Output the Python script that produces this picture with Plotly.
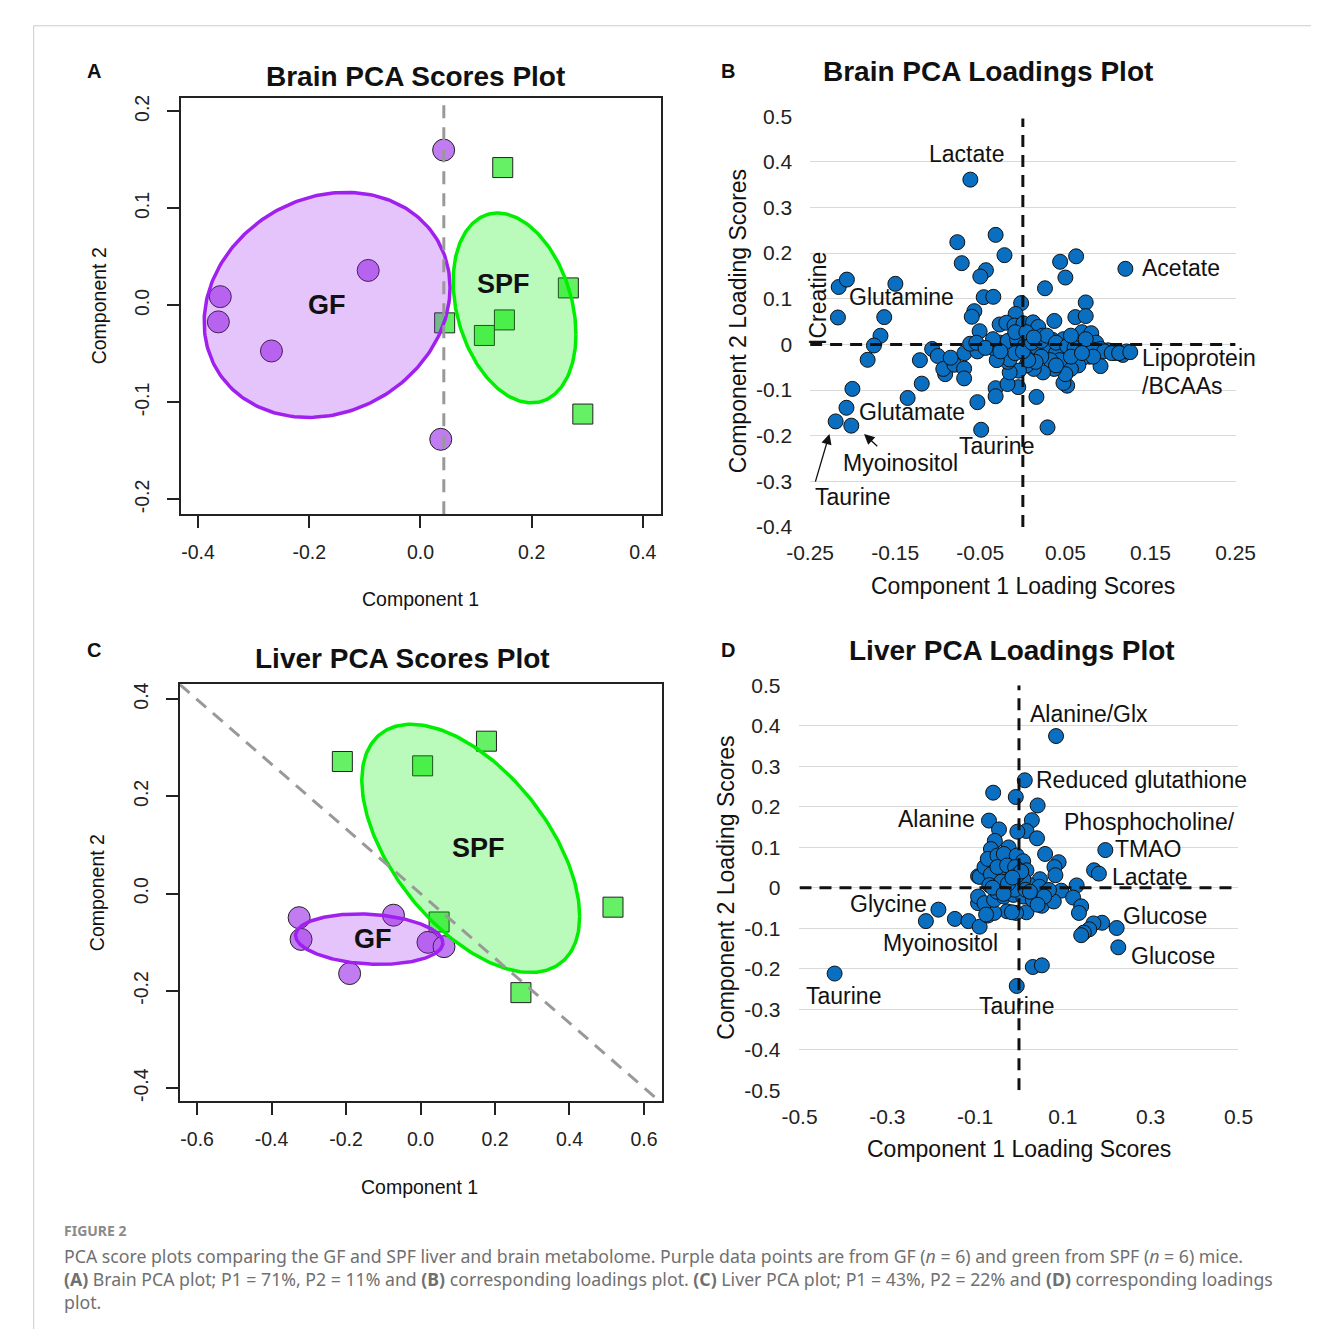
import numpy as np
import plotly.graph_objects as go

W, H = 1331, 1340

# ---------------- Panel A: brain PCA scores ----------------
brain_gf_pc1 = [-0.360, -0.3635, -0.268, -0.094, 0.0417, 0.0365]
brain_gf_pc2 = [0.009, -0.017, -0.047, 0.036, 0.160, -0.138]
brain_spf_pc1 = [0.148, 0.266, 0.0435, 0.151, 0.115, 0.292]
brain_spf_pc2 = [0.142, 0.018, -0.018, -0.015, -0.031, -0.112]
brain_split_pc1 = 0.042  # vertical separating line

# ---------------- Panel C: liver PCA scores ----------------
liver_gf_pc1 = [-0.326, -0.3208, -0.1904, -0.0727, 0.020, 0.0631]
liver_gf_pc2 = [-0.0495, -0.0941, -0.1644, -0.0444, -0.1002, -0.1091]
liver_spf_pc1 = [-0.2099, 0.0057, 0.1771, 0.0499, 0.5169, 0.2696]
liver_spf_pc2 = [0.2715, 0.2626, 0.3133, -0.0584, -0.0279, -0.2036]
liver_split_slope = -0.665  # diagonal separating line through the origin

# ---------------- Panel B: brain loadings ----------------
brain_load_pc1 = [
    -0.0617, 0.1205, -0.032, -0.077, -0.0216, -0.0718, 0.0626, 0.0438, 0.050, 0.026,
    -0.0434, -0.050, -0.046, -0.0347, -0.057, -0.060, -0.002, 0.0739, 0.0617, 0.0739,
    0.037, -0.0085, -0.0508, -0.2164, -0.2068, -0.2173, -0.1498, -0.1629, -0.1673, -0.175,
    -0.1824, -0.2003, -0.2073, -0.220, -0.2016, -0.1354, -0.1188, -0.1210, -0.0534, -0.049,
    0.029, 0.016, -0.0054, -0.032, -0.032, -0.018, -0.1066, -0.100, -0.0913, -0.0935,
    -0.0804, -0.0848, -0.069, -0.069, -0.0687, -0.0534, -0.062, -0.0547,
    -0.0273, -0.0194, -0.0098, 0.0007, 0.012, 0.0181, 0.0233, 0.0347, 0.0477, 0.0565,
    0.0695, 0.0804, 0.0861, 0.0913, 0.100, 0.1088, 0.1175, 0.1219, 0.0913, 0.0783,
    0.0695, 0.0652, 0.0565, 0.0521, 0.0477, 0.050, 0.0368, 0.0237, 0.0128, 0.0041,
    -0.0046, -0.0155, -0.0176, -0.0155, -0.0307, -0.0351, -0.0264, -0.0176, -0.0068, 0.002,
    0.0085, 0.0172, 0.0303, 0.039, 0.0434, 0.0325, 0.0216, 0.015, 0.0063, -0.009,
    0.000, 0.0107, 0.0216, 0.028, 0.039, 0.0521, 0.0608, 0.0739, 0.0826, 0.0565,
    0.039, -0.0351, -0.0439, -0.0264, -0.009, 0.0041, 0.0128, 0.0565, 0.0739, 0.0956,
    0.1044, 0.1131, 0.0826, 0.0695, 0.1262,
]
brain_load_pc2 = [
    0.361, 0.1656, 0.240, 0.224, 0.1955, 0.178, 0.193, 0.181, 0.1465, 0.123,
    0.1626, 0.1488, 0.1035, 0.1043, 0.0729, 0.0606, 0.0905, 0.092, 0.0598, 0.0621,
    0.0514, 0.0667, 0.029, 0.1258, 0.142, 0.059, 0.1327, 0.0598, 0.019, -0.0023,
    -0.0337, -0.0974, -0.1388, -0.1687, -0.178, -0.1173, -0.0859, -0.0345, -0.1265, -0.187,
    -0.1817, -0.115, -0.0936, -0.0959, -0.1135, -0.0867, -0.010, -0.0253, -0.0652, -0.0537,
    -0.0445, -0.0291, -0.0529, -0.0744, -0.0192, -0.0153, 0.0015, 0.0038,
    0.0437, 0.0475, 0.0414, 0.046, 0.0483, 0.0383, 0.0192, 0.010, 0.0115, 0.000,
    0.0268, 0.0245, 0.0038, -0.010, -0.013, -0.019, -0.023, -0.0153, -0.0475, -0.0268,
    -0.0307, -0.046, -0.0537, -0.0905, -0.0844, -0.0652, -0.0537, -0.0613, -0.0537, -0.046,
    -0.0575, -0.0613, -0.0383, -0.033, -0.0345, -0.0077, 0.0038, 0.0077, 0.0115, -0.0038,
    -0.0192, -0.0077, -0.0038, -0.0192, -0.0345, -0.0345, -0.0268, -0.0383, -0.0345, -0.0192,
    -0.0153, 0.0038, 0.0077, 0.0192, 0.0038, -0.0038, -0.0077, -0.0038, -0.0115, -0.0268,
    -0.046, 0.0115, -0.0077, -0.0153, 0.0268, 0.0268, 0.0153, 0.0192, 0.0115, -0.0153,
    -0.019, -0.019, -0.0268, -0.019, -0.0169,
]

# ---------------- Panel D: liver loadings ----------------
liver_load_pc1 = [
    0.0844, 0.0132, -0.0588, -0.0073, 0.0425, 0.0293, 0.017, -0.0037, 0.0411, -0.0683,
    -0.0455, -0.055, 0.0595, 0.0903, 0.0808, 0.083, 0.0477, 0.1967, 0.171, 0.182,
    0.1314, 0.0962, 0.1233, 0.1417, 0.1366, 0.1894, 0.1696, 0.1601, 0.1476, 0.1417,
    0.2225, 0.2262, -0.1835, -0.2121, -0.146, -0.1152, -0.0896, -0.0711, -0.420, -0.0051,
    0.0315, 0.0521, 0.0521, 0.0793, 0.017, -0.0066, -0.0271, -0.0566, -0.0932, -0.0932,
    -0.0639, -0.0236, -0.0896, -0.0786, -0.0711, -0.0491, -0.0345, -0.0051, 0.0095, 0.017,
    0.0022, -0.0198, -0.0418, -0.0639, -0.0491, -0.0271, -0.0088, -0.0676, -0.0418, -0.0161,
    0.0022, 0.0242, 0.0463, 0.0683, -0.0932, -0.0786, -0.0566, -0.0345, -0.0125, 0.0095,
    0.0315, 0.0573, -0.0161, 0.0425, -0.0749, -0.020, -0.030, 0.000, -0.010, 0.010,
    -0.040, 0.015, -0.050, -0.060, -0.025, -0.005, -0.035, 0.005, -0.015, 0.025,
]
liver_load_pc2 = [
    0.3745, 0.2653, 0.2347, 0.224, 0.2031, 0.1667, 0.140, 0.1383, 0.122, 0.1658,
    0.144, 0.1157, 0.0833, 0.063, 0.051, 0.0308, 0.021, 0.093, 0.043, 0.0348,
    0.0057, -0.0073, -0.0243, -0.0461, -0.0623, -0.0866, -0.0882, -0.1027, -0.1108, -0.1173,
    -0.0995, -0.1472, -0.0542, -0.0825, -0.077, -0.0825, -0.0963, -0.0688, -0.212, -0.2427,
    -0.1958, -0.1917, -0.0445, -0.034, -0.0607, -0.0623, -0.0583, -0.0623, -0.0381, 0.0283,
    0.0954, 0.0995, 0.0267, 0.051, 0.0711, 0.0794, 0.0833, 0.0794, 0.0655, 0.043,
    0.0348, 0.0308, 0.0348, 0.0332, 0.051, 0.055, 0.051, 0.0065, 0.0105, 0.0105,
    0.0024, 0.0065, 0.0024, -0.0056, -0.0218, -0.0381, -0.0299, -0.0218, -0.0178, -0.0218,
    -0.0299, -0.0218, -0.0607, -0.042, -0.0663, 0.020, 0.005, 0.015, -0.005, 0.020,
    0.015, -0.005, -0.010, 0.000, 0.010, 0.030, -0.015, 0.040, 0.025, -0.010,
]

# colours
GF_PT, GF_LINE, GF_FILL = "#c07cf0", "#a020f0", "rgba(160,32,240,0.27)"
SPF_PT, SPF_LINE, SPF_FILL = "#66f066", "#00ee00", "rgba(0,238,0,0.27)"
LOAD_BLUE = "#0a6fc0"
R_FONT = "Liberation Sans"


def data_ellipse(x, y, level=0.5, n=240):
    """Normal-theory data ellipse from the sample mean and covariance."""
    x, y = np.asarray(x), np.asarray(y)
    centre = np.array([x.mean(), y.mean()])
    chol = np.linalg.cholesky(np.cov(x, y))
    radius = np.sqrt(-2.0 * np.log(1.0 - level))
    t = np.linspace(0, 2 * np.pi, n)
    pts = centre[:, None] + radius * chol @ np.vstack([np.cos(t), np.sin(t)])
    return pts[0], pts[1], centre


def px(xp):
    return xp / W


def py(yp):
    return 1 - yp / H


fig = go.Figure()


def score_panel(xa, ya, gf_x, gf_y, spf_x, spf_y):
    fig.add_trace(go.Scatter(x=gf_x, y=gf_y, mode="markers", xaxis=xa, yaxis=ya,
                             marker=dict(symbol="circle", size=22, color=GF_PT,
                                         line=dict(color="#222", width=1))))
    fig.add_trace(go.Scatter(x=spf_x, y=spf_y, mode="markers", xaxis=xa, yaxis=ya,
                             marker=dict(symbol="square", size=20, color=SPF_PT,
                                         line=dict(color="#222", width=1))))
    gx, gy, gc = data_ellipse(gf_x, gf_y)
    sx, sy, sc = data_ellipse(spf_x, spf_y)
    fig.add_trace(go.Scatter(x=gx, y=gy, mode="lines", fill="toself", fillcolor=GF_FILL,
                             line=dict(color=GF_LINE, width=3.5), xaxis=xa, yaxis=ya))
    fig.add_trace(go.Scatter(x=sx, y=sy, mode="lines", fill="toself", fillcolor=SPF_FILL,
                             line=dict(color=SPF_LINE, width=3.5), xaxis=xa, yaxis=ya))
    return gc, sc


# Panel A
gcA, scA = score_panel("x", "y", brain_gf_pc1, brain_gf_pc2, brain_spf_pc1, brain_spf_pc2)
fig.add_trace(go.Scatter(x=[brain_split_pc1, brain_split_pc1], y=[-0.2152, 0.2142], mode="lines",
                         line=dict(color="#999999", width=3, dash="13px,9px"),
                         xaxis="x", yaxis="y"))
# Panel C
gcC, scC = score_panel("x3", "y3", liver_gf_pc1, liver_gf_pc2, liver_spf_pc1, liver_spf_pc2)
c_x = np.array([-0.6468, 0.4263 / -liver_split_slope])
fig.add_trace(go.Scatter(x=c_x, y=liver_split_slope * c_x, mode="lines",
                         line=dict(color="#999999", width=3, dash="13px,9px"),
                         xaxis="x3", yaxis="y3"))

# Loadings panels
fig.add_trace(go.Scatter(x=brain_load_pc1, y=brain_load_pc2, mode="markers", xaxis="x2", yaxis="y2",
                         marker=dict(size=15, color=LOAD_BLUE, line=dict(color="#111", width=1))))
fig.add_trace(go.Scatter(x=liver_load_pc1, y=liver_load_pc2, mode="markers", xaxis="x4", yaxis="y4",
                         marker=dict(size=15, color=LOAD_BLUE, line=dict(color="#111", width=1))))

# ---------- axes ----------
r_axis = dict(showline=True, mirror=True, linecolor="#222", linewidth=1.5, ticks="outside",
              ticklen=12, tickwidth=1.5, tickcolor="#222", showgrid=False, zeroline=False,
              tickfont=dict(family=R_FONT, size=19.5, color="#222"), fixedrange=True)
fig.update_layout(
    xaxis=dict(r_axis, domain=[px(162), px(659)], range=[-0.4313, 0.433], anchor="y",
               tickvals=[-0.4, -0.2, 0, 0.2, 0.4], ticktext=["-0.4", "-0.2", "0.0", "0.2", "0.4"],
               ticklabelstandoff=8),
    yaxis=dict(r_axis, domain=[py(511), py(87)], range=[-0.2152, 0.2142], anchor="x",
               tickvals=[-0.2, -0.1, 0, 0.1, 0.2], ticktext=["-0.2", "-0.1", "0.0", "0.1", "0.2"],
               tickangle=-90, ticklabelstandoff=10),
    xaxis3=dict(r_axis, domain=[px(161), px(660)], range=[-0.6468, 0.649], anchor="y3",
                tickvals=[-0.6, -0.4, -0.2, 0, 0.2, 0.4, 0.6],
                ticktext=["-0.6", "-0.4", "-0.2", "0.0", "0.2", "0.4", "0.6"], ticklabelstandoff=8),
    yaxis3=dict(r_axis, domain=[py(1108), py(684)], range=[-0.4263, 0.4303], anchor="x3",
                tickvals=[-0.4, -0.2, 0, 0.2, 0.4], ticktext=["-0.4", "-0.2", "0.0", "0.2", "0.4"],
                tickangle=-90, ticklabelstandoff=10),
)

xl_font = dict(family=R_FONT, size=21, color="#222")
b_y = [-0.4, -0.3, -0.2, -0.1, 0, 0.1, 0.2, 0.3, 0.4, 0.5]
d_y = [-0.5, -0.4, -0.3, -0.2, -0.1, 0, 0.1, 0.2, 0.3, 0.4, 0.5]


def lbl(v):
    return "0" if v == 0 else f"{v:g}"


fig.update_layout(
    xaxis2=dict(domain=[px(813), px(1253)], range=[-0.25, 0.25], anchor="y2", showline=False,
                showgrid=False, zeroline=False, tickvals=[-0.25, -0.15, -0.05, 0.05, 0.15, 0.25],
                ticktext=["-0.25", "-0.15", "-0.05", "0.05", "0.15", "0.25"], tickfont=xl_font,
                ticklabelstandoff=11),
    yaxis2=dict(domain=[py(524), py(106)], range=[-0.4, 0.5], anchor="x2", showline=False,
                showgrid=True, gridcolor="#d9d9d9", gridwidth=1.2, zeroline=False,
                tickvals=b_y, ticktext=[lbl(v) for v in b_y], tickfont=xl_font, ticklabelstandoff=17),
    xaxis4=dict(domain=[px(802), px(1256)], range=[-0.5, 0.5], anchor="y4", showline=False,
                showgrid=False, zeroline=False, tickvals=[-0.5, -0.3, -0.1, 0.1, 0.3, 0.5],
                ticktext=["-0.5", "-0.3", "-0.1", "0.1", "0.3", "0.5"], tickfont=xl_font,
                ticklabelstandoff=12),
    yaxis4=dict(domain=[py(1097), py(685)], range=[-0.5, 0.5], anchor="x4", showline=False,
                showgrid=True, gridcolor="#d9d9d9", gridwidth=1.2, zeroline=False,
                tickvals=d_y, ticktext=[lbl(v) for v in d_y], tickfont=xl_font, ticklabelstandoff=18),
)

shapes = []
dash_k = dict(color="#111", width=3, dash="12px,8px")
shapes.append(dict(type="line", xref="x2", yref="y2", x0=0, x1=0, y0=-0.4, y1=0.495, line=dash_k))
shapes.append(dict(type="line", xref="x2", yref="y2", x0=-0.25, x1=0.25, y0=0, y1=0, line=dash_k))
shapes.append(dict(type="line", xref="x4", yref="y4", x0=0, x1=0, y0=-0.5, y1=0.5, line=dash_k))
shapes.append(dict(type="line", xref="x4", yref="y4", x0=-0.5, x1=0.5, y0=0, y1=0, line=dash_k))
# page frame
shapes.append(dict(type="line", xref="paper", yref="paper", x0=px(10), x1=1, y0=py(14), y1=py(14),
                   line=dict(color="#cccccc", width=1)))
shapes.append(dict(type="line", xref="paper", yref="paper", x0=px(10), x1=px(10), y0=py(14), y1=0,
                   line=dict(color="#cccccc", width=1)))

ann = []


def text(x, y, s, size, xref="paper", yref="paper", xanchor="center", yanchor="middle",
         bold=False, angle=0, color="#111", family=R_FONT):
    ann.append(dict(x=x, y=y, xref=xref, yref=yref, text=f"<b>{s}</b>" if bold else s,
                    showarrow=False, xanchor=xanchor, yanchor=yanchor, textangle=angle,
                    font=dict(family=family, size=size, color=color)))


# titles and panel letters
text(px(405), py(66), "Brain PCA Scores Plot", 28, bold=True)
text(px(997), py(61), "Brain PCA Loadings Plot", 28, bold=True)
text(px(391), py(658), "Liver PCA Scores Plot", 28, bold=True)
text(px(1022), py(650), "Liver PCA Loadings Plot", 28, bold=True)
for letter, lx, ly in [("A", 72, 60), ("B", 728, 60), ("C", 72, 649), ("D", 728, 649)]:
    text(px(lx), py(ly), letter, 20, bold=True)

# axis titles
text(px(410), py(597), "Component 1", 19.5)
text(px(77), py(299), "Component 2", 19.5, angle=-90)
text(px(409), py(1196), "Component 1", 19.5)
text(px(75), py(896), "Component 2", 19.5, angle=-90)
text(px(1033), py(584), "Component 1 Loading Scores", 23)
text(px(738), py(315), "Component 2 Loading Scores", 23, angle=-90)
text(px(1029), py(1157), "Component 1 Loading Scores", 23)
text(px(726), py(891), "Component 2 Loading Scores", 23, angle=-90)

# group labels at ellipse centres
text(gcA[0], gcA[1], "GF", 27, "x", "y", bold=True)
text(scA[0] - 0.02, scA[1] + 0.025, "SPF", 27, "x", "y", bold=True)
text(gcC[0] + 0.01, gcC[1], "GF", 27, "x3", "y3", bold=True)
text(scC[0] + 0.02, scC[1] + 0.0, "SPF", 27, "x3", "y3", bold=True)

# metabolite labels, brain loadings
FS = 23
text(-0.066, 0.417, "Lactate", FS, "x2", "y2")
text(0.1375, 0.168, "Acetate", FS, "x2", "y2", xanchor="left")
text(-0.207, 0.103, "Glutamine", FS, "x2", "y2", xanchor="left")
text(-0.240, 0.101, "ICreatine", FS, "x2", "y2", angle=-90)
text(0.1375, -0.030, "Lipoprotein", FS, "x2", "y2", xanchor="left")
text(0.1375, -0.090, "/BCAAs", FS, "x2", "y2", xanchor="left")
text(-0.195, -0.148, "Glutamate", FS, "x2", "y2", xanchor="left")
text(-0.031, -0.2215, "Taurine", FS, "x2", "y2")
text(-0.144, -0.260, "Myoinositol", FS, "x2", "y2")
text(-0.2466, -0.335, "Taurine", FS, "x2", "y2", xanchor="left")
for (hx, hy, tx, ty) in [(-0.2273, -0.196, -0.2443, -0.304), (-0.1866, -0.196, -0.1693, -0.226)]:
    ann.append(dict(x=hx, y=hy, ax=tx, ay=ty, xref="x2", yref="y2", axref="x2", ayref="y2",
                    showarrow=True, arrowhead=2, arrowsize=1.6, arrowwidth=1.3, arrowcolor="#111",
                    text=""))

# metabolite labels, liver loadings
text(0.0198, 0.4296, "Alanine/Glx", FS, "x4", "y4", xanchor="left")
text(0.0352, 0.267, "Reduced glutathione", FS, "x4", "y4", xanchor="left")
text(-0.0947, 0.170, "Alanine", FS, "x4", "y4", xanchor="right")
text(0.097, 0.1626, "Phosphocholine/", FS, "x4", "y4", xanchor="left")
text(0.2137, 0.0947, "TMAO", FS, "x4", "y4", xanchor="left")
text(0.207, 0.0267, "Lactate", FS, "x4", "y4", xanchor="left")
text(-0.2048, -0.0413, "Glycine", FS, "x4", "y4", xanchor="right")
text(0.2335, -0.0704, "Glucose", FS, "x4", "y4", xanchor="left")
text(-0.178, -0.136, "Myoinositol", FS, "x4", "y4")
text(0.251, -0.1675, "Glucose", FS, "x4", "y4", xanchor="left")
text(-0.400, -0.267, "Taurine", FS, "x4", "y4")
text(-0.0066, -0.291, "Taurine", FS, "x4", "y4")

# caption
CAP = "Noto Sans"
text(px(39), py(1240), "FIGURE 2", 14, xanchor="left", bold=True, color="#8a8a8a", family=CAP)
cap_lines = [
    "PCA score plots comparing the GF and SPF liver and brain metabolome. Purple data points are from GF "
    "(<i>n</i> = 6) and green from SPF (<i>n</i> = 6) mice.",
    "<b>(A)</b> Brain PCA plot; P1 = 71%, P2 = 11% and <b>(B)</b> corresponding loadings plot. "
    "<b>(C)</b> Liver PCA plot; P1 = 43%, P2 = 22% and <b>(D)</b> corresponding loadings",
    "plot.",
]
for i, line in enumerate(cap_lines):
    text(px(39), py(1266 + 23.5 * i), line, 17.7, xanchor="left", color="#707070", family=CAP)

fig.update_layout(width=W, height=H, margin=dict(l=0, r=0, t=0, b=0), showlegend=False,
                  plot_bgcolor="white", paper_bgcolor="white", shapes=shapes, annotations=ann)
fig.write_html("out.html")
